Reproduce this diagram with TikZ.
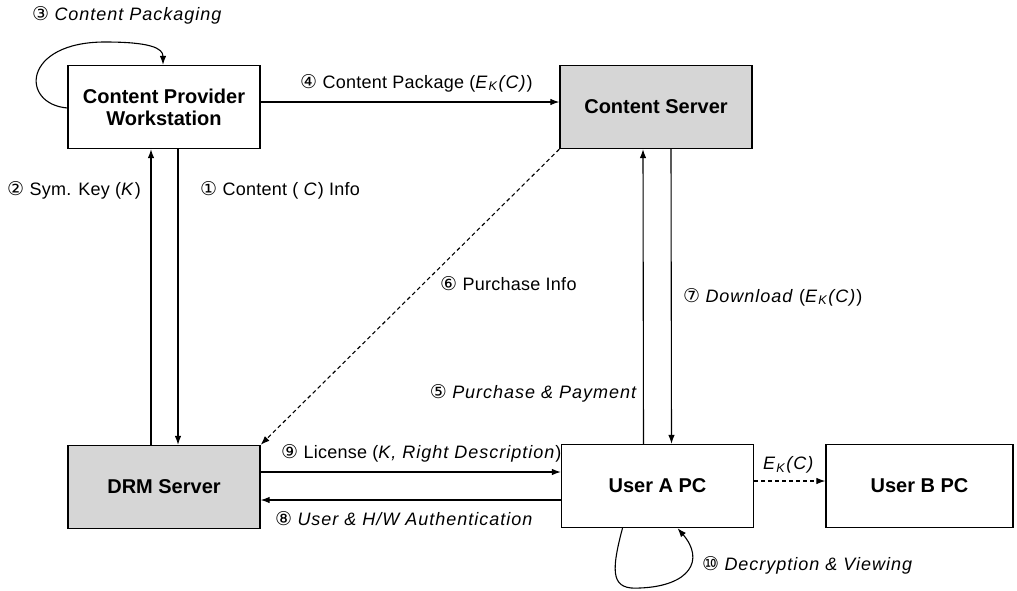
\documentclass[tikz,border=0pt]{standalone}
\usepackage{fontspec}
\setmainfont{Liberation Sans}[ItalicFeatures={LetterSpace=5.5}, UprightFeatures={LetterSpace=1.5}]
\newfontfamily\cfont{DejaVu Sans}
\usetikzlibrary{arrows.meta}
\newcommand{\cn}[1]{{\cfont\fontsize{19}{19}\selectfont #1}}
\newcommand{\EK}{\textit{E}\textsubscript{\textit{K}}\textit{(C)}}
\begin{document}
\begin{tikzpicture}[x=1pt,y=-1pt,
  box/.style={draw=black, line width=1.3pt, minimum width=192pt, minimum height=83pt,
    font=\fontsize{20}{22}\selectfont\bfseries, align=center, inner sep=0pt},
  shaded/.style={box, fill=black!16},
  lbl/.style={anchor=west, font=\fontsize{18}{20}\selectfont, inner sep=0pt},
  conn/.style={line width=1.1pt, -{Latex[length=9pt,width=6.5pt]}},
  dconn/.style={conn, dash pattern=on 4pt off 3pt}]
\useasboundingbox (0,0) rectangle (1017,590);

\node[box]    (cpw) at (164,107) {Content Provider\\Workstation};
\node[shaded] (cs)  at (656,107) {Content Server};
\node[shaded] (drm) at (164,487) {DRM Server};
\node[box]    (ua)  at (657.5,486) {User A PC};
\node[box, minimum width=187pt] (ub) at (919.5,486) {User B PC};

% loop 3
\draw[conn] (cpw.west |- 0,108) .. controls (20,104) and (22,42) .. (105,42)
  .. controls (150,42) and (163,48) .. ([xshift=-1pt]cpw.north);
\node[lbl] (l3) at (32,15) {\cn{③} \textit{Content Packaging}};

% 4
\draw[conn] ([yshift=5pt]cpw.east) -- ([yshift=5pt]cs.west);
\node[lbl] (l4) at (300,83) {\cn{④} Content Package (\EK)};

% 2 and 1
\draw[conn] ([xshift=-13pt]drm.north) -- ([xshift=-13pt]cpw.south);
\draw[conn] ([xshift=14pt]cpw.south) -- ([xshift=14pt]drm.north);
\node[lbl] (l2) at (7,190) {\cn{②} Sym. Key (\textit{K})};
\node[lbl] (l1) at (200,190) {\cn{①} Content ( \textit{C}) Info};

% 6
\draw[dconn] (cs.south west) -- (drm.north east);
\node[lbl] (l6) at (440,284) {\cn{⑥} Purchase Info};

% 5 and 7
\draw[conn] ([xshift=-14pt]ua.north) -- ([xshift=-13pt]cs.south);
\draw[conn] ([xshift=15pt]cs.south) -- ([xshift=14pt]ua.north);
\node[lbl] (l7) at (683,297) {\cn{⑦} \textit{Download} (\EK)};
\node[lbl, anchor=east] (l5) at (638,393) {\cn{⑤} \textit{Purchase \& Payment}};

% 9 and 8
\draw[conn] ([yshift=15pt]drm.east) -- ([yshift=14pt]ua.west);
\draw[conn] ([yshift=-14pt]ua.west) -- ([yshift=-13pt]drm.east);
\node[lbl] (l9) at (281,453) {\cn{⑨} License (\textit{K, Right Description})};
\node[lbl] (l8) at (275,519) {\cn{⑧} \textit{User \& H/W Authentication}};

% E_K(C)
\draw[dconn] ([yshift=5pt]ua.east) -- ([yshift=5pt]ub.west);
\node[lbl] (le) at (763,465) {\EK};

% loop 10
\draw[conn] ([xshift=-35pt]ua.south) .. controls (610,575) and (612,590) .. (640,588)
  .. controls (690,586) and (705,560) .. ([xshift=20pt]ua.south);
\node[lbl] (l10) at (702,565) {\cn{⑩} \textit{Decryption \& Viewing}};
\end{tikzpicture}
\end{document}
